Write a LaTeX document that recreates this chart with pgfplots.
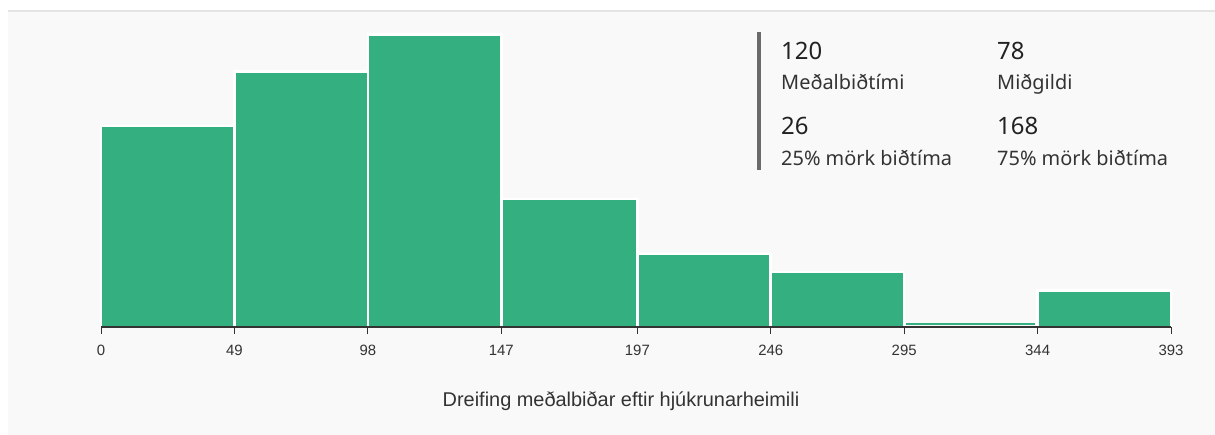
\documentclass[border=0pt]{standalone}
\usepackage{fontspec}
\setmainfont{Liberation Sans}
\newfontfamily\statfont{Noto Sans}
\usepackage{pgfplots}
\pgfplotsset{compat=1.18}
\definecolor{barg}{HTML}{34AF80}
\definecolor{panel}{HTML}{F9F9F9}
\definecolor{panelborder}{HTML}{E4E4E4}
\definecolor{axisc}{HTML}{333333}
\definecolor{statbar}{HTML}{6B6B6B}
\definecolor{numc}{HTML}{222222}
\definecolor{labc}{HTML}{333333}
\begin{document}
\begin{tikzpicture}[x=1bp,y=1bp]
\fill[white] (0,0) rectangle (1215,435);
\fill[panel] (8,0) rectangle (1215,425);
\fill[panelborder] (8,423) rectangle (1215,425);
\begin{axis}[
  at={(101bp,108bp)}, anchor=south west,
  scale only axis, width=1070bp, height=291bp,
  xmin=0, xmax=393, ymin=0, ymax=15.93,
  axis x line=bottom, axis y line=none, axis on top,
  x axis line style={-, axisc, line width=1.3bp},
  xtick={0,49,98,147,197,246,295,344,393},
  tick align=outside, major tick length=7bp,
  every tick/.style={axisc, line width=1bp},
  xticklabel style={font=\fontsize{15}{18}\selectfont, text=axisc, anchor=base, yshift=-22bp},
  /pgf/number format/assume math mode=true,
  clip=false,
]
\addplot[ybar interval, fill=barg, draw=white, line width=2.6bp] coordinates {
 (0,11) (49,14) (98,16) (147,7) (197,4) (246,3) (295,0) (344,2) (393,2)};
\addplot[barg, line width=1.6bp] coordinates {(295.8,0.15) (343.2,0.15)};
\end{axis}
\node[font=\fontsize{20}{24}\selectfont, text=axisc, anchor=base] at (621,28) {Dreifing meðalbiðar eftir hjúkrunarheimili};
\fill[statbar] (757,265) rectangle (761,403);
\begin{scope}[every node/.style={anchor=base west, inner sep=0pt}]
\node[font=\statfont\fontsize{24}{28}\selectfont, text=numc] at (781,375) {120};
\node[font=\statfont\fontsize{20}{24}\selectfont, text=labc] at (781,345) {Meðalbiðtími};
\node[font=\statfont\fontsize{24}{28}\selectfont, text=numc] at (781,300) {26};
\node[font=\statfont\fontsize{20}{24}\selectfont, text=labc] at (781,269) {25\% mörk biðtíma};
\node[font=\statfont\fontsize{24}{28}\selectfont, text=numc] at (997,375) {78};
\node[font=\statfont\fontsize{20}{24}\selectfont, text=labc] at (997,345) {Miðgildi};
\node[font=\statfont\fontsize{24}{28}\selectfont, text=numc] at (997,300) {168};
\node[font=\statfont\fontsize{20}{24}\selectfont, text=labc] at (997,269) {75\% mörk biðtíma};
\end{scope}
\end{tikzpicture}
\end{document}
